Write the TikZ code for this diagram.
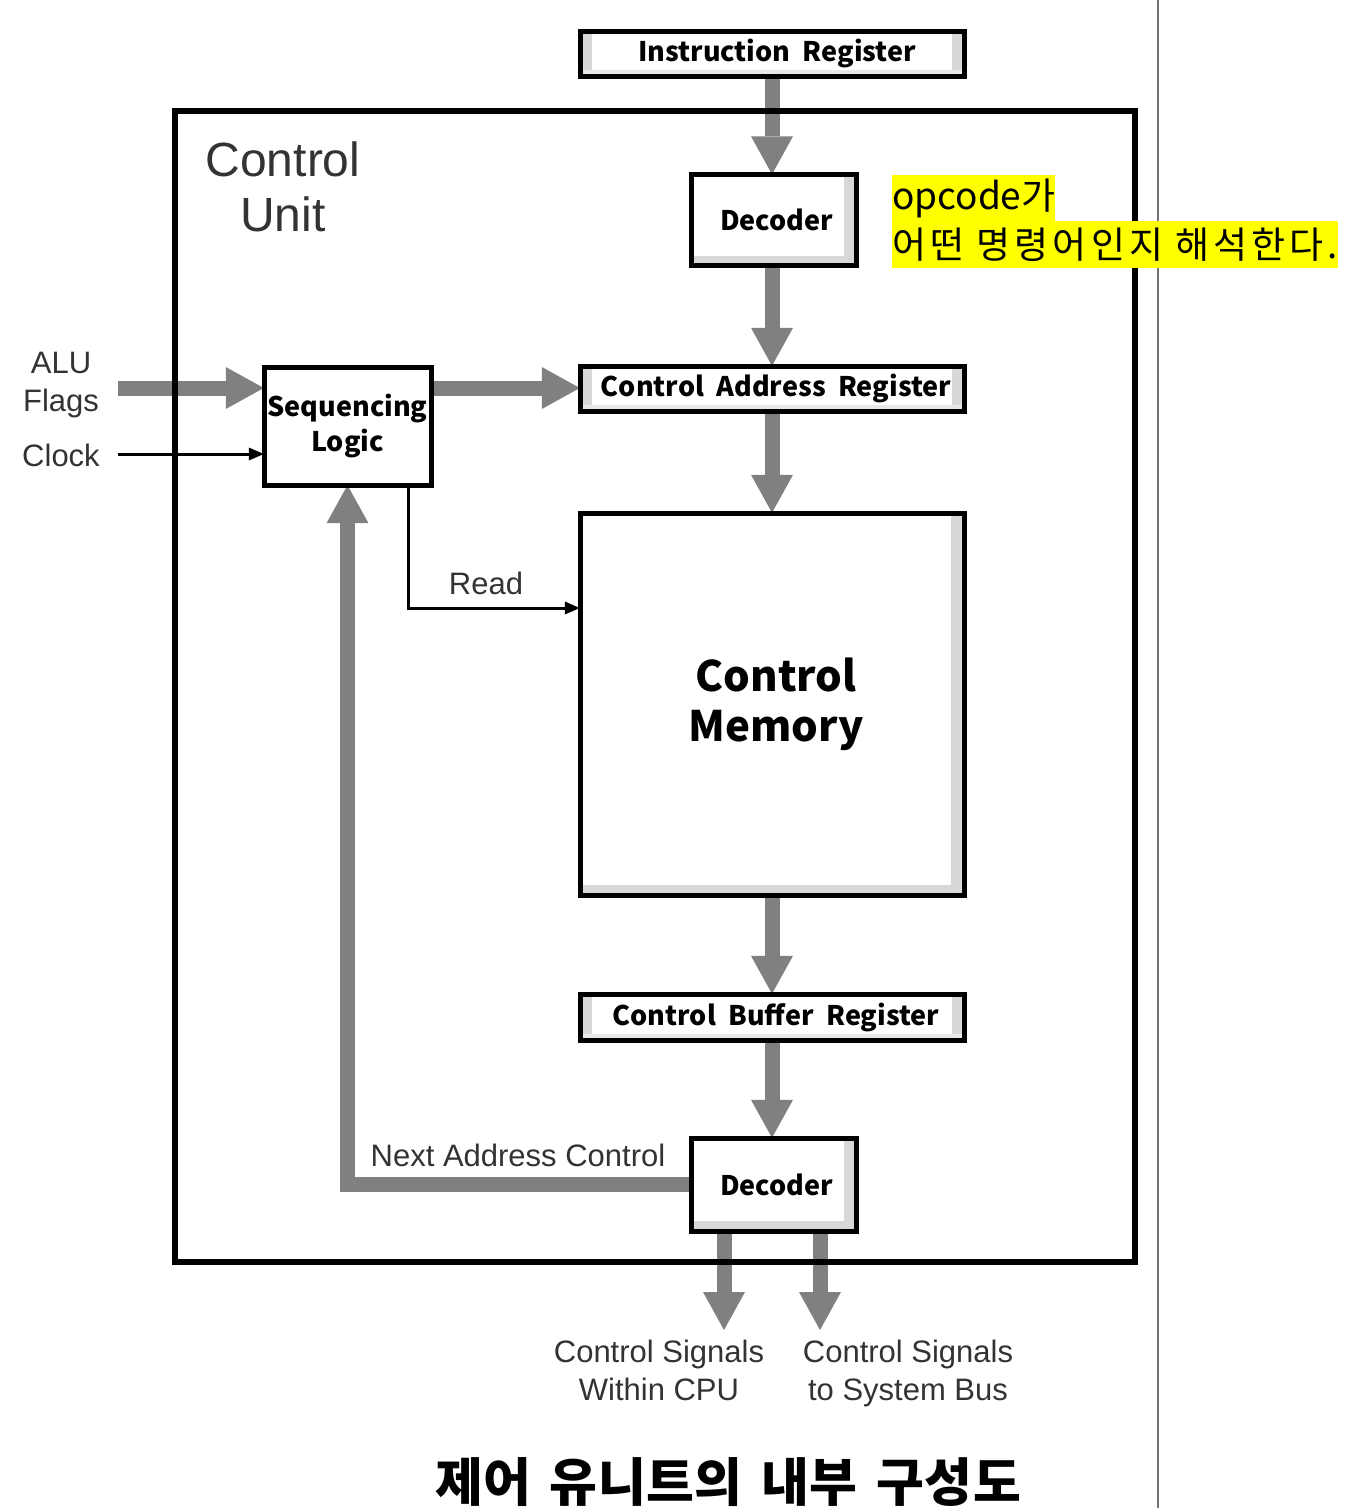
\documentclass[tikz,border=0pt]{standalone}
\usepackage{fontspec}
\usetikzlibrary{arrows.meta}
\newfontfamily\kr{Noto Sans CJK KR}
\newfontfamily\krw{Noto Sans CJK KR}[WordSpace=2]
\newfontfamily\krt{Noto Sans CJK KR}[WordSpace=1.5, LetterSpace=1]
\newfontfamily\krann{Noto Sans CJK KR}[LetterSpace=11]
\newfontfamily\lab{Liberation Sans}
\definecolor{arrowgray}{HTML}{808080}
\definecolor{labgray}{HTML}{333333}
\definecolor{stripc}{HTML}{D8D8D8}
\definecolor{annot}{HTML}{FFFF00}
\begin{document}
\begin{tikzpicture}[x=1pt,y=-1pt,
  blk/.style={draw=black, line width=5pt, fill=white, inner sep=0pt,
    font=\krw\bfseries\fontsize{27}{32}\selectfont},
  stripRB/.style={path picture={
    \fill[stripc] ([xshift=-13pt]path picture bounding box.north east) rectangle (path picture bounding box.south east);
    \fill[stripc] ([yshift=10pt]path picture bounding box.south west) rectangle (path picture bounding box.south east);}},
  stripLR/.style={path picture={
    \fill[stripc] (path picture bounding box.north west) rectangle ([xshift=12pt]path picture bounding box.south west);
    \fill[stripc] ([xshift=-12pt]path picture bounding box.north east) rectangle (path picture bounding box.south east);
    \fill[stripc!60] ([yshift=6pt]path picture bounding box.south west) rectangle (path picture bounding box.south east);}},
  fat/.style={draw=arrowgray, line width=15pt, line join=miter,
    -{Triangle[width=42pt,length=38pt,line width=0pt]}},
  sig/.style={draw=black, line width=3pt,
    -{Triangle[width=13pt,length=15pt,line width=0pt]}},
  lbl/.style={text=labgray, font=\lab\fontsize{31}{38}\selectfont, inner sep=0pt, align=center},
]
\useasboundingbox (0,0) rectangle (1364,1508);
\fill[white] (0,0) rectangle (1364,1508);
\draw[black!55, line width=2pt] (1158,0) -- (1158,1508);

% coordinates for free ends
\coordinate (alu) at (118,388);
\coordinate (clk) at (118,454);
\coordinate (rd) at (408,608);
\coordinate (o1) at (724,1330);
\coordinate (o2) at (820,1330);

% box anchors (boxes drawn later on top of the connectors)
\path (772,53.5) node[minimum width=384pt, minimum height=45pt, inner sep=0pt] (IR) {};
\path (774,220) node[minimum width=165pt, minimum height=91pt, inner sep=0pt] (D1) {};
\path (772,388.5) node[minimum width=384pt, minimum height=45pt, inner sep=0pt] (CAR) {};
\path (772,704) node[minimum width=384pt, minimum height=382pt, inner sep=0pt] (CM) {};
\path (772,1017) node[minimum width=384pt, minimum height=46pt, inner sep=0pt] (CBR) {};
\path (774,1184.5) node[minimum width=165pt, minimum height=93pt, inner sep=0pt] (D2) {};
\path (347.5,426) node[minimum width=167pt, minimum height=118pt, inner sep=0pt] (SL) {};

% connectors
\draw[fat] (IR.south) -- (IR.south |- D1.north);
\draw[fat] (IR.south |- D1.south) -- (IR.south |- CAR.north);
\draw[fat] (CAR.south) -- (CAR.south |- CM.north);
\draw[fat] (CM.south) -- (CM.south |- CBR.north);
\draw[fat] (CBR.south) -- (CBR.south |- D2.north);
\draw[fat] (D2.west) -- (SL.south |- D2.west) -- (SL.south);
\draw[fat] (D2.south -| o1) -- (o1);
\draw[fat] (D2.south -| o2) -- (o2);
\draw[fat] (alu) -- (alu -| SL.west);
\draw[fat] (SL.east |- alu) -- (CAR.west |- alu);
\draw[sig] (clk) -- (clk -| SL.west);
\draw[sig, line join=miter] (SL.south -| rd) -- (rd) -- (rd -| CM.west);

% visible boxes
\node[blk, stripLR, minimum width=384pt, minimum height=45pt] at (IR) {\hspace*{10pt}Instruction Register};
\node[blk, stripRB, minimum width=165pt, minimum height=91pt] at (D1) {\hspace*{5pt}Decoder};
\node[blk, stripLR, minimum width=384pt, minimum height=45pt] at (CAR) {\hspace*{8pt}Control Address Register};
\node[blk, stripRB, minimum width=384pt, minimum height=382pt, align=center,
      font=\krw\bfseries\fontsize{42}{50}\selectfont] at (CM) {\hspace*{8pt}Control\\\hspace*{8pt}Memory};
\node[blk, stripLR, minimum width=384pt, minimum height=46pt] at (CBR) {\hspace*{8pt}Control Buffer Register};
\node[blk, stripRB, minimum width=165pt, minimum height=93pt] at (D2) {\hspace*{5pt}Decoder};
\node[blk, minimum width=167pt, minimum height=118pt, align=center,
      font=\krw\bfseries\fontsize{27}{35}\selectfont] at (SL) {Sequencing\\Logic};

% outer frame
\draw[line width=6pt] (175,111) rectangle (1135,1262);

% labels
\node[lbl, font=\lab\fontsize{48}{55}\selectfont] (cu) at (283,187) {Control\\Unit};
\node[lbl] (alul) at (61,385) {ALU\\Flags};
\node[lbl] (clkl) at (61,455) {Clock};
\node[lbl] (rdl) at (486,583) {Read};
\node[lbl] (nac) at (518,1155) {Next Address Control};
\node[lbl] (cs1) at (659,1376) {Control Signals\\Within CPU\strut};
\node[lbl] (cs2) at (908,1376) {Control Signals\\to System Bus\strut};

% title
\node[font=\krt\bfseries\fontsize{52}{58}\selectfont, inner sep=0pt] (title) at (728,1482) {제어 유니트의 내부 구성도};

% annotation
\node[fill=annot, anchor=north west, inner sep=0pt, minimum height=46pt,
      font=\kr\fontsize{37}{44}\selectfont] (an1) at (892,175) {opcode가};
\node[fill=annot, anchor=north west, inner sep=0pt, minimum height=47pt,
      font=\krann\fontsize{37}{44}\selectfont] (an2) at (892,221) {어떤 명령어인지 해석한다.};
\end{tikzpicture}
\end{document}
